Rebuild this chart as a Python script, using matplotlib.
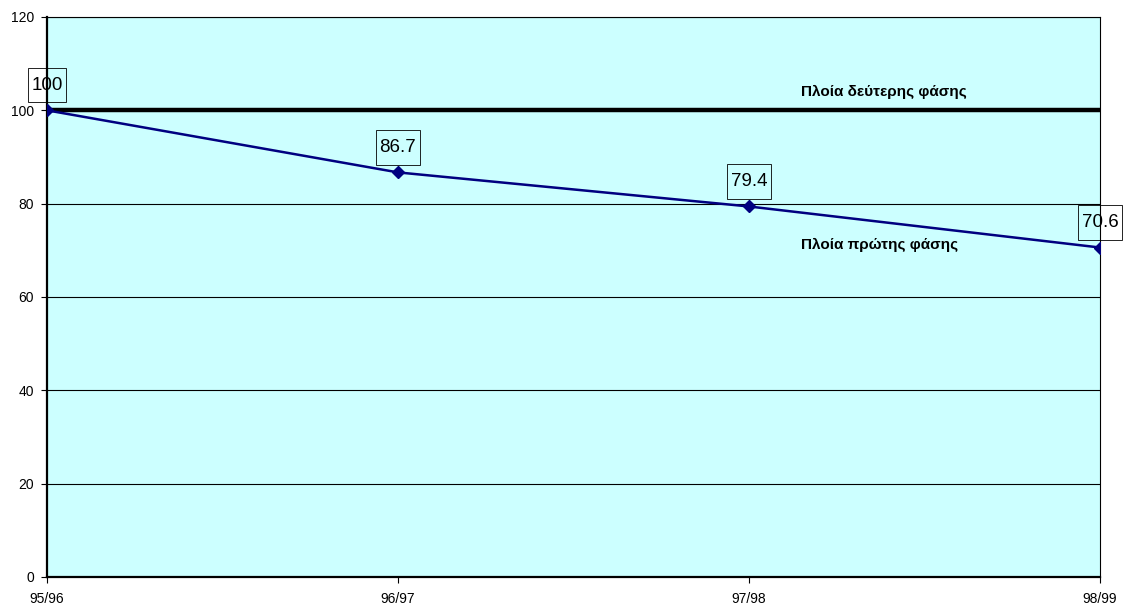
import matplotlib
matplotlib.use("Agg")
import matplotlib.pyplot as plt
from matplotlib.path import Path

plt.rcParams['font.family'] = ['Liberation Sans', 'DejaVu Sans']

seasons = ["95/96", "96/97", "97/98", "98/99"]
first_phase = [100, 86.7, 79.4, 70.6]
second_phase = [100, 100, 100, 100]
first_label = "Πλοία πρώτης φάσης"
second_label = "Πλοία δεύτερης φάσης"
y_ticks = [0, 20, 40, 60, 80, 100, 120]


def label_box(x0, y0, width, height, mutation_size):
    """Rectangle with more room above and below the text than at its sides."""
    px = 0.2 * mutation_size
    py = 0.47 * mutation_size
    x0, y0 = x0 - px, y0 - py
    x1, y1 = x0 + width + 2 * px, y0 + height + 2 * py
    return Path([(x0, y0), (x1, y0), (x1, y1), (x0, y1), (x0, y0)], closed=True)


fig = plt.figure(figsize=(11.28, 6.09), dpi=100)
ax = fig.add_axes([47 / 1128, 1 - 577 / 609, (1100 - 47) / 1128, (577 - 17) / 609])
ax.set_facecolor("#CCFFFF")

x = list(range(len(seasons)))

# horizontal gridlines
for t in y_ticks[1:]:
    ax.axhline(t, color="black", lw=0.8, zorder=1)

ax.plot(x, second_phase, color="black", lw=3.2, zorder=3, solid_capstyle="butt")
ax.plot(x, first_phase, color="#000080", lw=1.8, marker="D", markersize=6.5,
        markerfacecolor="#000080", markeredgecolor="#000080", zorder=4)

for xi, v in zip(x, first_phase):
    ax.annotate(f"{v:g}", (xi, v), xytext=(0, 12), textcoords="offset points",
                ha="center", va="bottom", fontsize=13.5, zorder=5,
                bbox=dict(boxstyle=label_box, fc="none", ec="black", lw=0.6))

ax.text(2.148, 103.9, second_label, fontsize=11, fontweight="bold", va="center", ha="left")
ax.text(2.148, 71.1, first_label, fontsize=11, fontweight="bold", va="center", ha="left")

ax.set_xlim(0, len(seasons) - 1)
ax.set_ylim(0, 120)
ax.set_xticks(x)
ax.set_xticklabels(seasons, fontsize=10)
ax.set_yticks(y_ticks)
ax.set_yticklabels([str(t) for t in y_ticks], fontsize=10)
ax.tick_params(axis="y", direction="out", length=4.3, width=0.8, pad=5)
ax.tick_params(axis="x", direction="out", length=4, width=0.8, pad=7)

ax.spines["left"].set_linewidth(1.6)
ax.spines["bottom"].set_linewidth(1.6)
ax.spines["top"].set_linewidth(0.8)
ax.spines["right"].set_linewidth(0.8)
for s in ax.spines.values():
    s.set_color("black")

fig.savefig("out.png", dpi=100)
